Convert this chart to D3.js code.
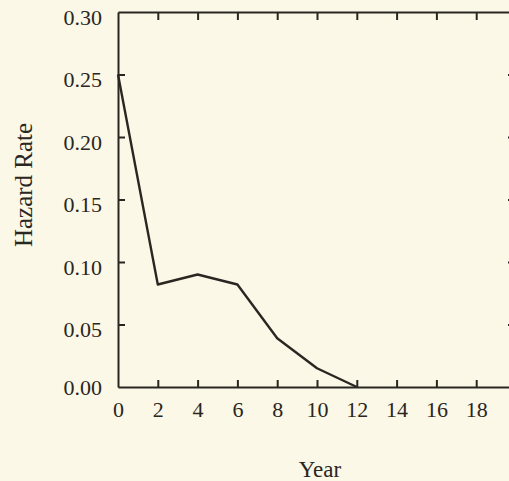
<!DOCTYPE html>
<html>
<head>
<meta charset="utf-8">
<script src="https://cdn.jsdelivr.net/npm/d3@7"></script>
<style>
    body { margin: 0; background: #fbf8e7; }
    svg { display: block; }
    .tick text { font-family: "Liberation Serif", "DejaVu Serif", serif; font-size: 22px; fill: #2a2622; }
    .tick line, .domain { stroke: #2a2622; stroke-width: 2; }
</style>
</head>
<body>
<svg id="chart"></svg>
<script>
const years = [0, 2, 4, 6, 8, 10, 12];
const hazard = [0.25, 0.082, 0.090, 0.082, 0.039, 0.015, 0.0];
const xTicks = [0, 2, 4, 6, 8, 10, 12, 14, 16, 18];
const yTicks = [0, 0.05, 0.10, 0.15, 0.20, 0.25, 0.30];

const width = 509, height = 481;
const plotLeft = 118, plotRight = 516, plotTop = 12, plotBottom = 387;

const svg = d3.select("#chart")
    .attr("width", width)
    .attr("height", height);

const x = d3.scaleLinear().domain([0, 20]).range([plotLeft, plotRight]);
const y = d3.scaleLinear().domain([0, 0.30]).range([plotBottom, plotTop]);

// bottom axis, ticks pointing up
svg.append("g")
    .attr("transform", `translate(0,${plotBottom})`)
    .call(d3.axisBottom(x).tickValues(xTicks).tickSizeInner(-7).tickSizeOuter(0).tickPadding(14).tickFormat(d3.format("d")))
    .call(g => g.select(".tick:first-of-type line").remove());

// top axis, ticks pointing down, no labels
svg.append("g")
    .attr("transform", `translate(0,${plotTop})`)
    .call(d3.axisTop(x).tickValues(xTicks.slice(1)).tickSizeInner(-8).tickSizeOuter(0).tickFormat(""));

// left axis
svg.append("g")
    .attr("transform", `translate(${plotLeft},0)`)
    .call(d3.axisLeft(y).tickValues(yTicks).tickSizeInner(-7).tickSizeOuter(0).tickPadding(16).tickFormat(d3.format(".2f")))
    .call(g => g.selectAll(".tick").filter(d => d === 0 || d === 0.30).select("line").remove())
    .call(g => g.selectAll(".tick text").attr("dy", d => d === 0 ? "0.32em" : "0.55em"));

// right axis (mostly off-screen)
svg.append("g")
    .attr("transform", `translate(${plotRight},0)`)
    .call(d3.axisRight(y).tickValues(yTicks.slice(1, -1)).tickSizeInner(-8).tickSizeOuter(0).tickFormat(""));

svg.append("path")
    .datum(years.map((d, i) => [d, hazard[i]]))
    .attr("fill", "none")
    .attr("stroke", "#2a2622")
    .attr("stroke-width", 2.4)
    .attr("stroke-linejoin", "round")
    .attr("d", d3.line().x(d => x(d[0])).y(d => y(d[1])));

svg.append("text")
    .attr("x", 320)
    .attr("y", 477)
    .attr("text-anchor", "middle")
    .attr("font-family", "Liberation Serif, DejaVu Serif, serif")
    .attr("font-size", 23)
    .attr("fill", "#2a2622")
    .text("Year");

svg.append("text")
    .attr("transform", "translate(32,185) rotate(-90)")
    .attr("text-anchor", "middle")
    .attr("font-family", "Liberation Serif, DejaVu Serif, serif")
    .attr("font-size", 25)
    .attr("fill", "#2a2622")
    .text("Hazard Rate");
</script>
</body>
</html>
